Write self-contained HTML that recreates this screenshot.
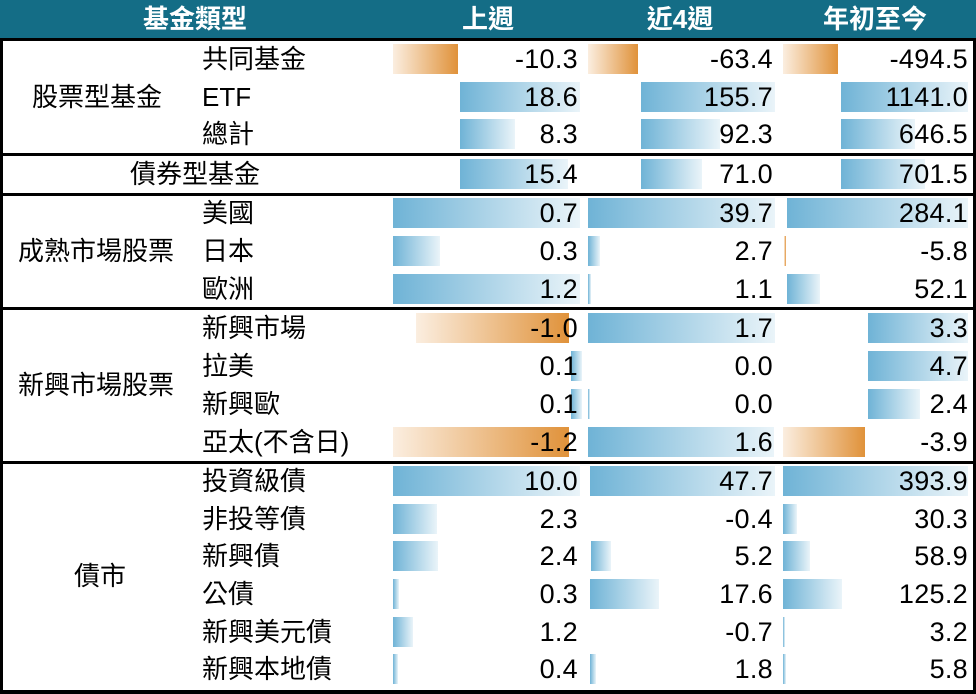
<!DOCTYPE html>
<html><head><meta charset="utf-8"><style>
body{margin:0;width:976px;height:694px;position:relative;background:#fff;overflow:hidden;font-family:"Liberation Sans","Noto Sans CJK TC",sans-serif;color:#000}
div{position:absolute}
.hd{left:0;top:0;width:976px;height:38px;background:#146d86}
.h{top:0;height:38px;line-height:38px;color:#fff;font-weight:bold;font-size:26px;text-align:center}
.hl{left:0;width:976px;height:3px;background:#000}
.vl{top:38px;width:3px;height:656px;background:#000}
.b{height:30px;background:linear-gradient(to right,#6fb3d6,#eaf4f9)}
.o{height:30px;background:linear-gradient(to right,#fbeee0,#e0923a)}
.v{font-size:27px;height:30px;line-height:30px;text-align:right;letter-spacing:0.3px}
.l{font-size:26px;height:30px;line-height:30px;left:202px;white-space:nowrap}
.g{font-size:26px;height:30px;line-height:30px;white-space:nowrap}
</style></head><body>
<div class="hd"></div>
<div class="h" style="left:95px;width:200px">基金類型</div>
<div class="h" style="left:388px;width:200px">上週</div>
<div class="h" style="left:580px;width:200px">近4週</div>
<div class="h" style="left:775px;width:200px">年初至今</div>

<div class="o" style="left:393px;top:44px;width:65px"></div>
<div class="o" style="left:588px;top:44px;width:50px"></div>
<div class="o" style="left:783px;top:44px;width:55px"></div>
<div class="b" style="left:460px;top:82px;width:120px"></div>
<div class="b" style="left:641px;top:82px;width:134px"></div>
<div class="b" style="left:841px;top:82px;width:127px"></div>
<div class="b" style="left:460px;top:119px;width:55px"></div>
<div class="b" style="left:641px;top:119px;width:79px"></div>
<div class="b" style="left:841px;top:119px;width:74px"></div>
<div class="b" style="left:460px;top:159px;width:108px"></div>
<div class="b" style="left:641px;top:159px;width:61px"></div>
<div class="b" style="left:841px;top:159px;width:84px"></div>
<div class="b" style="left:393px;top:198px;width:187px"></div>
<div class="b" style="left:588px;top:198px;width:187px"></div>
<div class="b" style="left:787px;top:198px;width:181px"></div>
<div class="b" style="left:393px;top:236px;width:47px"></div>
<div class="b" style="left:588px;top:236px;width:12px"></div>
<div class="o" style="left:784px;top:236px;width:2px"></div>
<div class="b" style="left:393px;top:274px;width:187px"></div>
<div class="b" style="left:588px;top:274px;width:3px"></div>
<div class="b" style="left:787px;top:274px;width:33px"></div>
<div class="o" style="left:416px;top:313px;width:153px"></div>
<div class="b" style="left:588px;top:313px;width:187px"></div>
<div class="b" style="left:868px;top:313px;width:100px"></div>
<div class="b" style="left:571px;top:351px;width:11px"></div>
<div class="b" style="left:868px;top:351px;width:100px"></div>
<div class="b" style="left:571px;top:389px;width:11px"></div>
<div class="b" style="left:588px;top:389px;width:2px"></div>
<div class="b" style="left:868px;top:389px;width:52px"></div>
<div class="o" style="left:393px;top:427px;width:176px"></div>
<div class="b" style="left:588px;top:427px;width:186px"></div>
<div class="o" style="left:783px;top:427px;width:82px"></div>
<div class="b" style="left:393px;top:466px;width:187px"></div>
<div class="b" style="left:590px;top:466px;width:185px"></div>
<div class="b" style="left:783px;top:466px;width:185px"></div>
<div class="b" style="left:393px;top:504px;width:44px"></div>
<div class="b" style="left:783px;top:504px;width:14px"></div>
<div class="b" style="left:393px;top:541px;width:45px"></div>
<div class="b" style="left:591px;top:541px;width:20px"></div>
<div class="b" style="left:783px;top:541px;width:27px"></div>
<div class="b" style="left:393px;top:579px;width:6px"></div>
<div class="b" style="left:590px;top:579px;width:69px"></div>
<div class="b" style="left:783px;top:579px;width:59px"></div>
<div class="b" style="left:393px;top:617px;width:20px"></div>
<div class="b" style="left:783px;top:617px;width:2px"></div>
<div class="b" style="left:393px;top:654px;width:5px"></div>
<div class="b" style="left:590px;top:654px;width:6px"></div>
<div class="b" style="left:783px;top:654px;width:3px"></div>

<div class="g" style="left:32px;top:82px">股票型基金</div>
<div class="l" style="top:44px">共同基金</div>
<div class="l" style="top:82px">ETF</div>
<div class="l" style="top:119px">總計</div>
<div class="g" style="left:130px;top:159px">債券型基金</div>
<div class="g" style="left:18px;top:236px">成熟市場股票</div>
<div class="l" style="top:198px">美國</div>
<div class="l" style="top:236px">日本</div>
<div class="l" style="top:274px">歐洲</div>
<div class="g" style="left:18px;top:370px">新興市場股票</div>
<div class="l" style="top:313px">新興市場</div>
<div class="l" style="top:351px">拉美</div>
<div class="l" style="top:389px">新興歐</div>
<div class="l" style="top:427px">亞太(不含日)</div>
<div class="g" style="left:74px;top:561px">債市</div>
<div class="l" style="top:466px">投資級債</div>
<div class="l" style="top:504px">非投等債</div>
<div class="l" style="top:541px">新興債</div>
<div class="l" style="top:579px">公債</div>
<div class="l" style="top:617px">新興美元債</div>
<div class="l" style="top:654px">新興本地債</div>

<div class="v" style="right:398px;top:44px">-10.3</div><div class="v" style="right:203px;top:44px">-63.4</div><div class="v" style="right:8px;top:44px">-494.5</div>
<div class="v" style="right:398px;top:82px">18.6</div><div class="v" style="right:203px;top:82px">155.7</div><div class="v" style="right:8px;top:82px">1141.0</div>
<div class="v" style="right:398px;top:119px">8.3</div><div class="v" style="right:203px;top:119px">92.3</div><div class="v" style="right:8px;top:119px">646.5</div>
<div class="v" style="right:398px;top:159px">15.4</div><div class="v" style="right:203px;top:159px">71.0</div><div class="v" style="right:8px;top:159px">701.5</div>
<div class="v" style="right:398px;top:198px">0.7</div><div class="v" style="right:203px;top:198px">39.7</div><div class="v" style="right:8px;top:198px">284.1</div>
<div class="v" style="right:398px;top:236px">0.3</div><div class="v" style="right:203px;top:236px">2.7</div><div class="v" style="right:8px;top:236px">-5.8</div>
<div class="v" style="right:398px;top:274px">1.2</div><div class="v" style="right:203px;top:274px">1.1</div><div class="v" style="right:8px;top:274px">52.1</div>
<div class="v" style="right:398px;top:313px">-1.0</div><div class="v" style="right:203px;top:313px">1.7</div><div class="v" style="right:8px;top:313px">3.3</div>
<div class="v" style="right:398px;top:351px">0.1</div><div class="v" style="right:203px;top:351px">0.0</div><div class="v" style="right:8px;top:351px">4.7</div>
<div class="v" style="right:398px;top:389px">0.1</div><div class="v" style="right:203px;top:389px">0.0</div><div class="v" style="right:8px;top:389px">2.4</div>
<div class="v" style="right:398px;top:427px">-1.2</div><div class="v" style="right:203px;top:427px">1.6</div><div class="v" style="right:8px;top:427px">-3.9</div>
<div class="v" style="right:398px;top:466px">10.0</div><div class="v" style="right:203px;top:466px">47.7</div><div class="v" style="right:8px;top:466px">393.9</div>
<div class="v" style="right:398px;top:504px">2.3</div><div class="v" style="right:203px;top:504px">-0.4</div><div class="v" style="right:8px;top:504px">30.3</div>
<div class="v" style="right:398px;top:541px">2.4</div><div class="v" style="right:203px;top:541px">5.2</div><div class="v" style="right:8px;top:541px">58.9</div>
<div class="v" style="right:398px;top:579px">0.3</div><div class="v" style="right:203px;top:579px">17.6</div><div class="v" style="right:8px;top:579px">125.2</div>
<div class="v" style="right:398px;top:617px">1.2</div><div class="v" style="right:203px;top:617px">-0.7</div><div class="v" style="right:8px;top:617px">3.2</div>
<div class="v" style="right:398px;top:654px">0.4</div><div class="v" style="right:203px;top:654px">1.8</div><div class="v" style="right:8px;top:654px">5.8</div>

<div class="hl" style="top:38px"></div>
<div class="hl" style="top:153px"></div>
<div class="hl" style="top:193px"></div>
<div class="hl" style="top:307px"></div>
<div class="hl" style="top:461px"></div>
<div class="hl" style="top:690px;height:4px"></div>
<div class="vl" style="left:0"></div>
<div class="vl" style="left:973px"></div>
</body></html>
